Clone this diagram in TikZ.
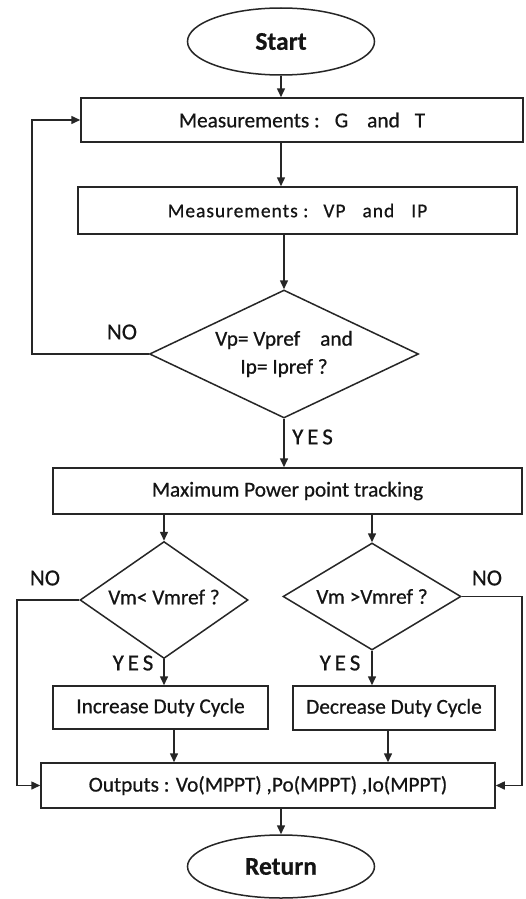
\documentclass[tikz,border=0pt]{standalone}
\usepackage{fontspec}
\setmainfont{Carlito}[FakeBold=0.6]
\newfontfamily\spacedfont{Carlito}[LetterSpace=5,FakeBold=0.6]
\usetikzlibrary{shapes.geometric,arrows.meta}
\definecolor{ink}{HTML}{141414}
\definecolor{linec}{HTML}{262626}
\tikzset{
  base/.style={draw=linec, line width=1.5pt, text=ink, inner sep=0pt, font=\fontsize{21.3}{27}\selectfont},
  procbox/.style={base, rectangle},
  termin/.style={base, ellipse, font=\fontsize{25.5}{30}\selectfont\bfseries},
  decide/.style={base, diamond, shape aspect=2.2, align=center},
  arr/.style={draw=linec, line width=1.5pt, -{Triangle[length=9pt,width=8pt]}},
  lab/.style={text=ink, inner sep=0pt, font=\fontsize{23}{26}\selectfont}
}
\begin{document}
\begin{tikzpicture}[x=1pt,y=-1pt]
\useasboundingbox (0,0) rectangle (526,899);
\fill[white] (0,0) rectangle (526,899);

\node[termin, minimum width=187pt, minimum height=67pt] (start) at (281,41.5) {Start};
\node[procbox, minimum width=442pt, minimum height=44pt] (box1) at (302,120)
  {Measurements :\hspace{15pt}G\hspace{19pt}and\hspace{15pt}T};
\node[procbox, minimum width=439pt, minimum height=47pt] (box2) at (297.5,210.5)
  {\spacedfont\fontsize{19.5}{22}\selectfont Measurements :\hspace{15pt}VP\hspace{17pt}and\hspace{17pt}IP};
\node[decide, minimum width=269pt, minimum height=128pt] (d1) at (284,354)
  {Vp= Vpref\hspace{20pt}and\\[1pt]Ip= Ipref ?};
\node[procbox, minimum width=469pt, minimum height=46pt] (box3) at (287.5,491)
  {Maximum Power point tracking};
\node[decide, minimum width=168pt, minimum height=117pt] (d2) at (164,600)
  {\raisebox{6pt}{Vm< Vmref ?}};
\node[decide, minimum width=178pt, minimum height=107pt] (d3) at (372,596.5)
  {Vm >Vmref ?};
\node[procbox, minimum width=215pt, minimum height=43pt] (inc) at (160.5,707.5)
  {Increase Duty Cycle};
\node[procbox, minimum width=202pt, minimum height=44pt] (dec) at (394,708)
  {Decrease Duty Cycle};
\node[procbox, minimum width=454pt, minimum height=45pt] (out) at (268,785.5)
  {Outputs : Vo(MPPT) ,Po(MPPT) ,Io(MPPT)};
\node[termin, minimum width=187pt, minimum height=63pt] (ret) at (281,866.5) {Return};

\coordinate (loopx) at (32,0);
\coordinate (nl) at (17,0);
\coordinate (nr) at (522,0);

\draw[arr] (start.south) -- (start.south |- box1.north);
\draw[arr] ([xshift=-21pt]box1.south) -- ([xshift=-21pt]box1.south |- box2.north);
\draw[arr] (d1.north |- box2.south) -- (d1.north);
\draw[arr] (d1.west) -| (loopx |- box1.west) -- (box1.west);
\draw[arr] (d1.south) -- (d1.south |- box3.north);
\draw[arr] (d2.north |- box3.south) -- (d2.north);
\draw[arr] (d3.north |- box3.south) -- (d3.north);
\draw[arr] (d2.south) -- (d2.south |- inc.north);
\draw[arr] (d3.south) -- (d3.south |- dec.north);
\draw[arr] ([xshift=13.5pt]inc.south) -- ([xshift=13.5pt]inc.south |- out.north);
\draw[arr] ([xshift=-6pt]dec.south) -- ([xshift=-6pt]dec.south |- out.north);
\draw[arr] (d2.west) -| (nl |- out.west) -- (out.west);
\draw[arr] (d3.east) -| (nr |- out.east) -- (out.east);
\draw[arr] (ret.north |- out.south) -- (ret.north);

\node[lab] (no1) at (122,332) {NO};
\node[lab, anchor=west] (yes1) at (292,437) {Y\,E\,S};
\node[lab] (no2) at (45,578) {NO};
\node[lab] (no3) at (487,578) {NO};
\node[lab] (yes2) at (133,663) {Y\,E\,S};
\node[lab] (yes3) at (340,663) {Y\,E\,S};
\end{tikzpicture}
\end{document}
